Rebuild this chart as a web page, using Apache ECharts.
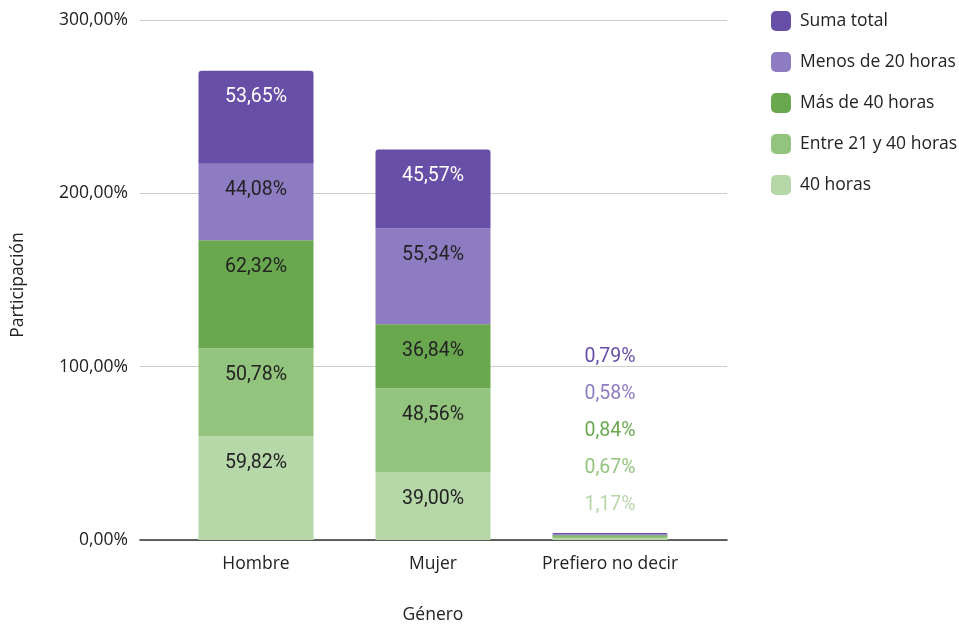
<!DOCTYPE html>
<html><head><meta charset="utf-8">
<script src="https://cdn.jsdelivr.net/npm/echarts@6/dist/echarts.min.js"></script>
<style>html,body{margin:0;padding:0;background:#fff}#c{width:959px;height:629px}</style>
</head><body><div id="c"></div>
<script>
const categories = ['Hombre', 'Mujer', 'Prefiero no decir'];
const seriesNames = ['40 horas', 'Entre 21 y 40 horas', 'Más de 40 horas', 'Menos de 20 horas', 'Suma total'];
const v40horas = [59.82, 39.00, 1.17];
const vEntre21y40 = [50.78, 48.56, 0.67];
const vMasDe40 = [62.32, 36.84, 0.84];
const vMenosDe20 = [44.08, 55.34, 0.58];
const vSumaTotal = [53.65, 45.57, 0.79];
const yTicks = [0, 100, 200, 300];

const values = [v40horas, vEntre21y40, vMasDe40, vMenosDe20, vSumaTotal];
const colors = ['#b6d7a8', '#93c47d', '#6aa84f', '#8e7cc3', '#674ea7'];
const insideText = ['#222', '#222', '#222', '#222', '#fff'];
const fmt = v => v.toFixed(2).replace('.', ',') + '%';
const axisFont = 'Open Sans';

const chart = echarts.init(document.getElementById('c'), null, {renderer: 'canvas'});
const series = values.map((arr, i) => ({
  name: seriesNames[i],
  type: 'bar',
  stack: 'total',
  xAxisIndex: 1,
  yAxisIndex: 1,
  barWidth: 115,
  itemStyle: {color: colors[i], borderRadius: i === 4 ? [3, 3, 0, 0] : 0},
  label: {
    show: true, position: 'insideTop', distance: 16.5, color: insideText[i],
    fontFamily: 'Roboto', fontSize: 19.5,
    formatter: p => fmt(p.value)
  },
  data: arr.map((v, j) => j === 2 ? {
    value: v,
    label: {position: 'top', distance: 0, color: colors[i], offset: [0, -23 - 35.8 * i]}
  } : v)
}));

chart.setOption({
  animation: false,
  grid: [
    {left: 140, right: 232, top: 20, bottom: 89},
    {left: 167.5, right: 260.5, top: 20, bottom: 89}
  ],
  legend: {
    orient: 'vertical', left: 766, top: 6,
    itemWidth: 20, itemHeight: 20, itemGap: 21,
    icon: 'roundRect',
    data: seriesNames.slice().reverse(),
    textStyle: {fontFamily: axisFont, fontSize: 17.5, color: '#222', padding: [0, 0, 0, 4]}
  },
  xAxis: [
    {gridIndex: 0, type: 'value', min: 0, max: 1, axisLabel: {show: false}, axisTick: {show: false},
     splitLine: {show: false}, axisLine: {show: true, lineStyle: {color: '#333', width: 1.5}}},
    {gridIndex: 1, type: 'category', data: categories, axisLine: {show: false}, axisTick: {show: false},
     axisLabel: {interval: 0, hideOverlap: false, fontFamily: axisFont, fontSize: 17.5, color: '#222', margin: 15}}
  ],
  yAxis: [
    {gridIndex: 0, type: 'value', min: yTicks[0], max: yTicks[yTicks.length - 1], interval: 100,
     axisLine: {show: false}, axisTick: {show: false},
     axisLabel: {fontFamily: axisFont, fontSize: 17.5, color: '#222', margin: 12,
       formatter: v => fmt(v)},
     splitLine: {lineStyle: {color: '#cccccc', width: 1}}},
    {gridIndex: 1, type: 'value', min: 0, max: 300, show: false, splitLine: {show: false}}
  ],
  graphic: [
    {type: 'text', x: 18, y: 285, rotation: Math.PI / 2, style: {text: 'Participación', fontFamily: axisFont, fontSize: 17.5, fill: '#222', align: 'center', verticalAlign: 'middle'}},
    {type: 'text', x: 433, y: 615, style: {text: 'Género', fontFamily: axisFont, fontSize: 17.5, fill: '#222', align: 'center', verticalAlign: 'middle'}}
  ],
  series: series
});
</script></body></html>
